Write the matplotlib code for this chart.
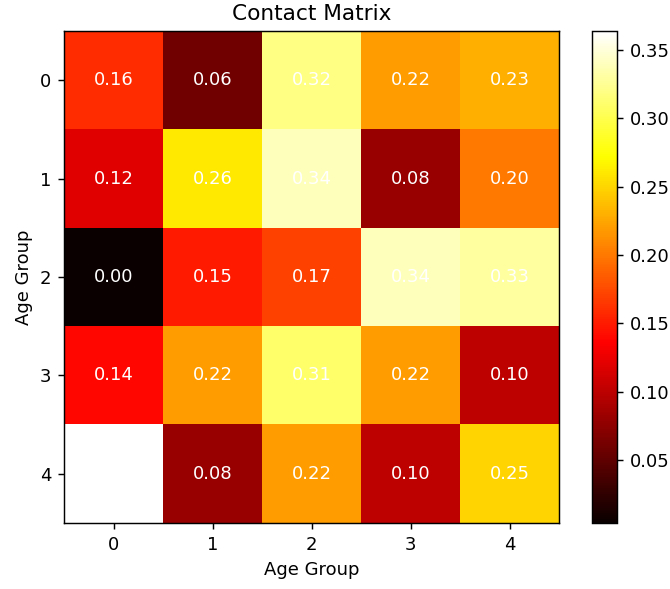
import matplotlib
matplotlib.use('Agg')
import matplotlib.pyplot as plt
import numpy as np

age_groups = [0, 1, 2, 3, 4]
contact = np.array([
    [0.16, 0.06, 0.32, 0.22, 0.23],
    [0.12, 0.26, 0.34, 0.08, 0.20],
    [0.004, 0.15, 0.17, 0.34, 0.33],
    [0.14, 0.22, 0.31, 0.22, 0.10],
    [0.364, 0.08, 0.22, 0.10, 0.25],
])

dpi = 130
fig = plt.figure(figsize=(670 / dpi, 589 / dpi), dpi=dpi)
ax = fig.add_axes([64 / 670, 1 - 523 / 589, 495 / 670, 492 / 589])
cax = fig.add_axes([592 / 670, 1 - 523 / 589, 25 / 670, 492 / 589])

im = ax.imshow(contact, cmap='hot', aspect='auto')
fig.colorbar(im, cax=cax)

for i in range(contact.shape[0]):
    for j in range(contact.shape[1]):
        ax.text(j, i, f'{contact[i, j]:.2f}', ha='center', va='center', color='w')

ax.set_xticks(age_groups)
ax.set_yticks(age_groups)
ax.set_xlabel('Age Group')
ax.set_ylabel('Age Group')
ax.set_title('Contact Matrix')

fig.savefig('out.png', dpi=dpi)
